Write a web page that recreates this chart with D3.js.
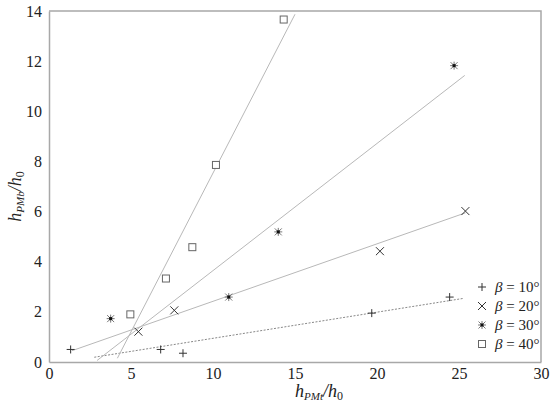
<!DOCTYPE html>
<html>
<head>
<meta charset="utf-8">
<script src="https://cdn.jsdelivr.net/npm/d3@7"></script>
</head>
<body style="margin:0; background:#fff">
<div id="chart"></div>
<script>
var svgWidth = 550;
var svgHeight = 403;

var margin = { top: 11, right: 9, bottom: 41, left: 49 };
var width = svgWidth - margin.left - margin.right;
var height = svgHeight - margin.top - margin.bottom;

// series data (x = hPMt/h0, y = hPMb/h0)
var labels = ["β = 10°", "β = 20°", "β = 30°", "β = 40°"];
var symbols = ["plus", "cross", "star", "square"];
var b10x = [1.32, 6.81, 8.17, 19.68, 24.43];
var b10y = [0.50, 0.50, 0.35, 1.95, 2.59];
var b20x = [5.45, 7.64, 20.18, 25.39];
var b20y = [1.21, 2.06, 4.42, 6.02];
var b30x = [3.76, 10.96, 13.98, 24.70];
var b30y = [1.73, 2.59, 5.19, 11.82];
var b40x = [4.96, 7.13, 8.74, 10.18, 14.31];
var b40y = [1.90, 3.33, 4.58, 7.86, 13.66];

// fitted trend lines: start and end points
var fitX0 = [2.76, 1.40, 2.93, 4.17];
var fitY0 = [0.19, 0.45, 0.06, 0.15];
var fitX1 = [25.30, 25.40, 25.35, 15.00];
var fitY1 = [2.54, 5.95, 11.43, 13.87];

var xTicks = [0, 5, 10, 15, 20, 25, 30];
var yTicks = [0, 2, 4, 6, 8, 10, 12, 14];

var seriesX = [b10x, b20x, b30x, b40x];
var seriesY = [b10y, b20y, b30y, b40y];

var serif = "Liberation Serif";

var svg = d3.select("#chart")
  .append("svg")
  .attr("width", svgWidth)
  .attr("height", svgHeight);

var chartGroup = svg.append("g")
  .attr("transform", `translate(${margin.left}, ${margin.top})`);

var xScale = d3.scaleLinear().domain([0, 30]).range([0, width]);
var yScale = d3.scaleLinear().domain([0, 14]).range([height, 0]);

var axisColor = "#a8a8a8";

// frame (top and right borders)
chartGroup.append("path")
  .attr("d", `M0,0H${width}V${height}`)
  .attr("fill", "none")
  .attr("stroke", axisColor)
  .attr("stroke-width", 1.5);

var bottomAxis = d3.axisBottom(xScale).tickValues(xTicks).tickSize(0).tickPadding(5);
var leftAxis = d3.axisLeft(yScale).tickValues(yTicks).tickSize(0).tickPadding(6);

var gx = chartGroup.append("g")
  .attr("transform", `translate(0, ${height})`)
  .call(bottomAxis);
var gy = chartGroup.append("g").call(leftAxis);

[gx, gy].forEach(g => {
  g.select(".domain").attr("stroke", axisColor).attr("stroke-width", 1.5);
  g.selectAll("text")
    .attr("font-family", serif)
    .attr("font-size", 16)
    .attr("fill", "#222");
});
gx.selectAll("text").attr("dy", "0.72em");
gy.selectAll("text").attr("dx", "-1");

// trend lines
labels.forEach((lab, i) => {
  chartGroup.append("line")
    .attr("x1", xScale(fitX0[i]))
    .attr("y1", yScale(fitY0[i]))
    .attr("x2", xScale(fitX1[i]))
    .attr("y2", yScale(fitY1[i]))
    .attr("stroke", i === 0 ? "#888" : "#b8b8b8")
    .attr("stroke-width", 1)
    .attr("stroke-dasharray", i === 0 ? "2,1.5" : null);
});

function drawSymbol(g, type, x, y) {
  var s = 4;
  if (type === "plus") {
    g.append("path")
      .attr("d", `M${x - s},${y}H${x + s}M${x},${y - s}V${y + s}`)
      .attr("stroke", "#333").attr("stroke-width", 1).attr("fill", "none");
  } else if (type === "cross") {
    g.append("path")
      .attr("d", `M${x - s},${y - s}L${x + s},${y + s}M${x - s},${y + s}L${x + s},${y - s}`)
      .attr("stroke", "#333").attr("stroke-width", 1).attr("fill", "none");
  } else if (type === "star") {
    var t = 3.5;
    g.append("path")
      .attr("d", `M${x - t},${y - t}L${x + t},${y + t}M${x - t},${y + t}L${x + t},${y - t}M${x},${y - t - 0.5}V${y + t + 0.5}M${x - t - 0.5},${y}H${x + t + 0.5}`)
      .attr("stroke", "#555").attr("stroke-width", 0.8).attr("fill", "none");
    g.append("rect")
      .attr("x", x - 1.5).attr("y", y - 1.5)
      .attr("width", 3).attr("height", 3)
      .attr("fill", "#111");
  } else {
    g.append("rect")
      .attr("x", x - 3.5).attr("y", y - 3.5)
      .attr("width", 7).attr("height", 7)
      .attr("fill", "#fff").attr("stroke", "#666").attr("stroke-width", 1);
  }
}

// points
var pointsGroup = chartGroup.append("g");
seriesX.forEach((xs, i) => {
  xs.forEach((xv, j) => {
    drawSymbol(pointsGroup, symbols[i], xScale(xv), yScale(seriesY[i][j]));
  });
});

// legend
var legend = svg.append("g");
labels.forEach((lab, i) => {
  var ly = 287 + i * 19;
  drawSymbol(legend, symbols[i], 482, ly);
  var t = legend.append("text")
    .attr("x", 495)
    .attr("y", ly + 5)
    .attr("font-family", serif)
    .attr("font-size", 15)
    .attr("fill", "#222");
  t.append("tspan").attr("font-style", "italic").text(lab.slice(0, 1));
  t.append("tspan").text(lab.slice(1));
});

// axis titles
function axisTitle(text, sub1, sub2) {
  text.append("tspan").attr("font-style", "italic").attr("font-size", 18).text("h");
  text.append("tspan").attr("font-style", "italic").attr("font-size", 11).attr("dy", 3).text(sub1);
  text.append("tspan").attr("font-style", "italic").attr("font-size", 18).attr("dy", -3).text("/h");
  text.append("tspan").attr("font-size", 12).attr("dy", 3).text(sub2);
}

var xTitle = svg.append("text")
  .attr("x", margin.left + width / 2 + 24)
  .attr("y", 397)
  .attr("text-anchor", "middle")
  .attr("font-family", serif)
  .attr("fill", "#222");
axisTitle(xTitle, "PMt", "0");

var yTitle = svg.append("text")
  .attr("transform", `translate(21, ${margin.top + height / 2 + 10}) rotate(-90)`)
  .attr("text-anchor", "middle")
  .attr("font-family", serif)
  .attr("fill", "#222");
axisTitle(yTitle, "PMb", "0");
</script>
</body>
</html>
